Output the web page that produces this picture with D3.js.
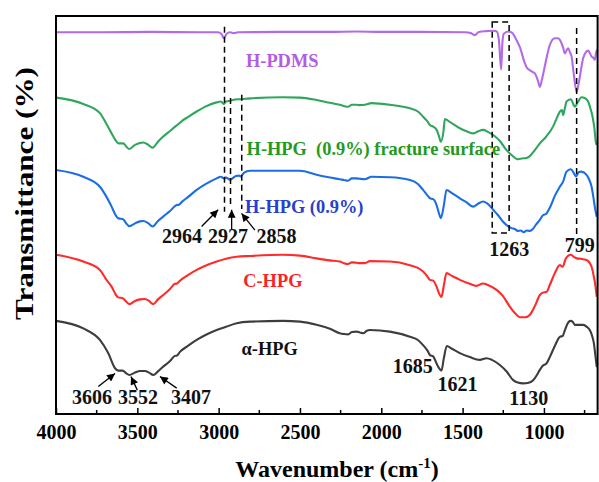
<!DOCTYPE html>
<html>
<head>
<meta charset="utf-8">
<script src="https://cdn.jsdelivr.net/npm/d3@7"></script>
<style>
  body { margin: 0; background: #fff; }
  svg { display: block; }
  text { font-family: "Liberation Serif", "Times New Roman", serif; font-weight: bold; }
</style>
</head>
<body>
<svg id="chart" width="599" height="482"></svg>
<script>
// ---- FTIR spectra: [wavenumber (cm^-1), transmittance (offset, a.u.)] ----
const xTicks = [4000, 3500, 3000, 2500, 2000, 1500, 1000];
const xMinorTicks = [3750, 3250, 2750, 2250, 1750, 1250, 750];

const hPDMS = [
  [4000,95.9],[3730,95.9],[3422,96.0],[3115,95.9],[3004,95.9],[2983,95.5],[2967,94.4],[2952,95.5],
  [2930,95.9],[2906,95.7],[2881,95.9],[2623,96.0],[2316,96.0],[2150,96.1],[2009,96.0],[1763,96.0],
  [1486,95.9],[1449,95.7],[1425,95.2],[1400,96.0],[1351,96.2],[1312,96.3],[1290,96.1],[1277,94.0],
  [1263,86.6],[1256,92.9],[1247,95.5],[1220,96.1],[1197,95.8],[1169,94.0],[1148,92.2],[1117,88.1],
  [1105,87.0],[1087,86.4],[1068,85.9],[1056,85.6],[1038,83.9],[1025,82.2],[1013,83.9],[995,87.3],
  [976,90.9],[964,92.7],[933,94.4],[914,94.4],[902,94.0],[883,92.2],[871,90.6],[859,91.5],[851,91.9],
  [841,91.0],[830,89.8],[816,85.2],[799,81.0],[788,82.7],[779,84.8],[759,89.4],[742,90.9],[728,91.3],
  [718,90.7],[707,89.8],[696,89.5],[687,89.0],[678,91.0],[670,91.6]
];

const hHPGFracture = [
  [4000,79.5],[3832,77.9],[3730,75.6],[3693,73.1],[3658,70.5],[3631,68.6],[3617,68.0],[3586,68.0],
  [3570,67.3],[3549,66.6],[3514,67.6],[3484,68.1],[3463,68.2],[3435,67.7],[3406,66.9],[3373,68.4],
  [3341,69.7],[3299,71.1],[3262,72.4],[3248,72.8],[3226,73.6],[3189,74.6],[3135,76.0],[3078,77.3],
  [3012,78.3],[2986,78.5],[2967,77.9],[2955,78.5],[2930,78.7],[2900,79.0],[2859,79.1],[2808,79.3],
  [2605,79.6],[2500,79.5],[2398,78.9],[2316,78.2],[2255,77.7],[2230,77.4],[2204,77.2],[2181,77.7],
  [2152,77.7],[2132,77.6],[2101,77.7],[2060,78.1],[1947,77.7],[1824,76.8],[1775,76.0],[1743,74.7],
  [1714,73.4],[1701,72.6],[1681,72.2],[1660,71.4],[1646,69.9],[1634,68.4],[1618,70.9],[1609,74.1],
  [1579,73.4],[1517,71.8],[1480,71.1],[1435,70.5],[1406,71.0],[1374,71.4],[1345,70.9],[1312,70.1],
  [1271,68.6],[1230,66.3],[1197,65.0],[1159,64.0],[1136,64.2],[1107,64.3],[1087,64.8],[1056,66.3],
  [1025,68.0],[988,69.6],[944,72.2],[915,74.9],[902,76.0],[889,76.4],[882,75.1],[871,76.9],[861,78.5],
  [835,79.1],[810,77.2],[791,78.4],[769,79.6],[749,79.4],[728,78.5],[715,76.9],[701,74.7],[690,71.9],
  [681,68.4],[675,67.6]
];

const hHPG = [
  [4000,61.3],[3832,59.6],[3730,57.1],[3693,54.8],[3658,52.1],[3631,49.8],[3617,49.2],[3586,48.9],
  [3570,48.0],[3549,47.2],[3514,47.9],[3484,48.4],[3463,48.5],[3435,48.0],[3406,47.1],[3373,48.5],
  [3341,49.6],[3299,51.0],[3258,52.5],[3244,52.6],[3226,53.3],[3189,54.5],[3135,56.3],[3078,57.8],
  [3012,59.2],[2986,59.6],[2967,59.2],[2955,59.4],[2930,58.9],[2912,59.3],[2894,59.8],[2875,59.9],
  [2863,59.7],[2845,60.6],[2808,61.1],[2605,61.1],[2500,61.1],[2398,60.1],[2316,59.4],[2255,59.0],
  [2230,58.8],[2204,58.6],[2181,59.2],[2152,59.2],[2132,59.1],[2101,59.0],[2060,59.6],[1947,59.5],
  [1824,58.8],[1775,57.8],[1743,56.3],[1714,54.8],[1701,54.2],[1681,54.0],[1660,52.5],[1646,50.5],
  [1634,49.2],[1615,52.5],[1599,56.3],[1566,55.5],[1517,54.2],[1480,53.3],[1435,52.1],[1406,52.8],
  [1374,53.4],[1345,52.8],[1312,51.3],[1283,50.0],[1251,48.3],[1222,47.2],[1199,46.7],[1179,46.5],
  [1161,46.0],[1143,46.1],[1124,45.7],[1106,46.1],[1087,46.0],[1068,46.5],[1050,47.5],[1025,48.8],
  [1007,49.9],[984,50.4],[964,51.8],[933,54.8],[902,57.1],[882,58.4],[861,60.9],[835,61.5],[810,60.1],
  [803,59.7],[785,60.8],[769,60.9],[738,60.1],[724,59.1],[707,57.1],[696,54.5],[687,52.0],[675,49.5]
];

const cHPG = [
  [4000,40.0],[3832,38.3],[3730,36.2],[3693,33.9],[3658,32.0],[3631,29.9],[3617,29.3],[3590,29.1],
  [3570,28.3],[3549,27.6],[3514,28.4],[3484,28.8],[3453,28.9],[3428,28.4],[3402,27.6],[3373,28.8],
  [3341,29.9],[3299,31.4],[3269,32.7],[3256,32.8],[3238,33.5],[3189,34.9],[3135,36.2],[3078,37.3],
  [3012,38.3],[2955,39.0],[2889,39.5],[2808,39.7],[2605,40.0],[2500,39.8],[2398,39.1],[2316,38.6],
  [2255,38.3],[2230,37.9],[2204,37.7],[2181,38.1],[2152,38.0],[2132,37.9],[2101,37.9],[2070,38.4],
  [1947,38.3],[1824,37.4],[1775,36.7],[1743,35.8],[1714,34.4],[1701,33.7],[1681,33.5],[1660,32.0],
  [1646,30.4],[1630,29.4],[1615,32.4],[1599,35.4],[1566,34.7],[1517,33.7],[1456,32.7],[1415,32.2],
  [1374,32.8],[1345,32.4],[1291,31.2],[1253,29.7],[1210,27.0],[1179,25.4],[1147,24.3],[1117,24.3],
  [1087,24.9],[1056,27.1],[1025,29.9],[1007,30.5],[984,30.7],[964,32.4],[933,35.4],[902,37.4],
  [885,37.0],[865,39.1],[835,40.0],[816,39.5],[799,39.1],[773,39.0],[738,38.7],[718,37.9],[707,37.0],
  [693,34.5],[684,32.4],[675,29.4]
];

const alphaHPG = [
  [4000,23.4],[3832,21.5],[3730,18.6],[3679,15.3],[3637,11.5],[3617,10.9],[3590,10.9],[3570,10.3],
  [3549,9.8],[3514,10.4],[3484,10.8],[3453,10.8],[3428,10.4],[3402,9.8],[3373,10.7],[3341,11.9],
  [3299,13.3],[3269,14.6],[3256,14.7],[3238,15.6],[3189,17.1],[3135,18.6],[3078,19.9],[3012,21.1],
  [2955,21.9],[2889,22.8],[2808,23.2],[2605,23.4],[2500,23.2],[2398,22.4],[2316,21.4],[2255,20.3],
  [2230,20.1],[2204,20.0],[2181,20.6],[2152,20.7],[2132,20.5],[2111,20.3],[2089,20.9],[2070,21.1],
  [1947,20.7],[1824,19.4],[1775,18.6],[1743,17.3],[1714,15.8],[1701,14.8],[1681,14.5],[1660,12.7],
  [1646,11.6],[1630,10.9],[1615,14.1],[1597,17.1],[1566,16.4],[1517,15.3],[1456,14.3],[1394,13.6],
  [1353,14.0],[1320,13.6],[1271,12.3],[1228,10.6],[1189,8.5],[1161,7.9],[1128,7.7],[1099,7.8],
  [1066,8.5],[1043,9.8],[1025,11.1],[1007,12.1],[984,12.7],[964,14.3],[933,17.1],[902,19.4],
  [885,19.6],[871,21.1],[852,22.9],[837,23.4],[822,23.1],[810,22.4],[779,22.4],[759,22.4],[736,21.9],
  [718,21.1],[706,19.9],[693,17.8],[684,14.8],[675,11.8]
];

const seriesData = [hPDMS, hHPGFracture, hHPG, cHPG, alphaHPG];
const seriesNames = ["H-PDMS", "H-HPG  (0.9%) fracture surface", "H-HPG (0.9%)", "C-HPG", "\u03b1-HPG"];
const lineColors = ["#b36ae6", "#2fa65c", "#1c6ee4", "#ff2b2b", "#3d3d3d"];
const labelColors = ["#b25de2", "#1f9a22", "#2840cc", "#ff1f1f", "#111111"];
// label anchor: [wavenumber at text start, baseline level]
const labelWn = [2832, 2828, 2838, 2849, 2859];
const labelLevel = [87.3, 65.1, 50.4, 32.0, 14.7];

// peak annotations: text, wavenumber of text centre, baseline level
const peakText = ["3606", "3552", "3407", "2964", "2927", "2858", "1263", "799", "1685", "1621", "1130"];
const peakWn = [3779, 3496, 3170, 3226, 2943, 2645, 1213, 779, 1806, 1532, 1093];
const peakLevel = [2.5, 2.5, 2.5, 43.0, 43.0, 43.0, 39.8, 40.7, 10.3, 5.7, 2.3];

// arrows: [tail wn, tail level, head wn, head level]
const arrows = [
  [3740, 6.9, 3637, 10.2],
  [3500, 6.0, 3539, 9.4],
  [3258, 6.5, 3361, 9.4],
  [3105, 47.1, 3003, 51.3],
  [2920, 46.2, 2920, 51.3],
  [2777, 46.2, 2859, 50.4]
];

// dashed guide lines: [wn, top level, bottom level]
const guides = [
  [2964, 97.3, 50.8],
  [2927, 79.4, 51.8],
  [2858, 80.2, 51.5],
  [799, 97.0, 45.2]
];
// dashed box round the 1263 band: [wn left, wn right, top level, bottom level]
const bandBox = [1318, 1214, 98.5, 45.5];

// ---- layout ----
const plot = { left: 56, right: 597.6, top: 16, bottom: 414 };

const svg = d3.select("#chart");
const x = d3.scaleLinear().domain([4000, 670]).range([plot.left, plot.right]);
const y = d3.scaleLinear().domain([0, 100]).range([plot.bottom, plot.top]);

const defs = svg.append("defs");
defs.append("clipPath").attr("id", "clip")
  .append("rect").attr("x", plot.left).attr("y", plot.top)
  .attr("width", plot.right - plot.left).attr("height", plot.bottom - plot.top);

defs.append("marker")
  .attr("id", "arrowhead").attr("viewBox", "0 0 10 10")
  .attr("refX", 10).attr("refY", 5)
  .attr("markerWidth", 9).attr("markerHeight", 8)
  .attr("markerUnits", "userSpaceOnUse")
  .attr("orient", "auto")
  .append("path").attr("d", "M0,0 L10,5 L0,10 z").attr("fill", "#000");

// spectra
const line = d3.line()
  .x(d => x(d[0])).y(d => y(d[1]))
  .curve(d3.curveMonotoneX);

svg.append("g").attr("clip-path", "url(#clip)")
  .selectAll("path").data(seriesData).join("path")
  .attr("d", d => line([...d].sort((a, b) => b[0] - a[0])))
  .attr("fill", "none")
  .attr("stroke", (d, i) => lineColors[i])
  .attr("stroke-width", 2.1)
  .attr("stroke-linejoin", "round");

// series labels
svg.append("g").selectAll("text").data(seriesNames).join("text")
  .attr("x", (d, i) => x(labelWn[i]))
  .attr("y", (d, i) => y(labelLevel[i]))
  .attr("fill", (d, i) => labelColors[i])
  .style("font-size", "18.4px")
  .style("white-space", "pre")
  .text(d => d);

// dashed guides
const dash = "6,4";
svg.append("g").selectAll("line").data(guides).join("line")
  .attr("x1", d => x(d[0])).attr("x2", d => x(d[0]))
  .attr("y1", d => y(d[1])).attr("y2", d => y(d[2]))
  .attr("stroke", "#000").attr("stroke-width", 1.5)
  .attr("stroke-dasharray", dash);

svg.append("rect")
  .attr("x", x(bandBox[0])).attr("y", y(bandBox[2]))
  .attr("width", x(bandBox[1]) - x(bandBox[0]))
  .attr("height", y(bandBox[3]) - y(bandBox[2]))
  .attr("fill", "none").attr("stroke", "#000").attr("stroke-width", 1.5)
  .attr("stroke-dasharray", dash);

// arrows
svg.append("g").selectAll("line").data(arrows).join("line")
  .attr("x1", d => x(d[0])).attr("y1", d => y(d[1]))
  .attr("x2", d => x(d[2])).attr("y2", d => y(d[3]))
  .attr("stroke", "#000").attr("stroke-width", 1.3)
  .attr("marker-end", "url(#arrowhead)");

// peak labels
svg.append("g").selectAll("text").data(peakText).join("text")
  .attr("x", (d, i) => x(peakWn[i]))
  .attr("y", (d, i) => y(peakLevel[i]))
  .attr("text-anchor", "middle")
  .attr("fill", "#111")
  .style("font-size", "20px")
  .text(d => d);

// x axis with inward ticks
const xAxis = svg.append("g")
  .attr("transform", `translate(0,${plot.bottom})`)
  .call(d3.axisBottom(x).tickValues(xTicks).tickSize(-6).tickPadding(11).tickFormat(d3.format("d")));
xAxis.select(".domain").remove();
xAxis.selectAll(".tick line").attr("stroke", "#000").attr("stroke-width", 1.5);
xAxis.selectAll(".tick text")
  .style("font-size", "20px").style("font-family", "'Liberation Serif', serif")
  .style("font-weight", "bold").attr("fill", "#000");

svg.append("g").selectAll("line").data(xMinorTicks).join("line")
  .attr("x1", d => x(d)).attr("x2", d => x(d))
  .attr("y1", plot.bottom).attr("y2", plot.bottom - 4)
  .attr("stroke", "#000").attr("stroke-width", 1.5);

// frame
svg.append("rect")
  .attr("x", plot.left).attr("y", plot.top)
  .attr("width", plot.right - plot.left).attr("height", plot.bottom - plot.top)
  .attr("fill", "none").attr("stroke", "#000").attr("stroke-width", 2);

// axis titles
const xt = svg.append("text")
  .attr("x", 337).attr("y", 477)
  .attr("text-anchor", "middle")
  .style("font-size", "24px").attr("fill", "#000");
xt.append("tspan").text("Wavenumber (cm");
xt.append("tspan").attr("dy", -9).style("font-size", "15px").text("-1");
xt.append("tspan").attr("dy", 9).text(")");

svg.append("text")
  .attr("transform", "translate(33,193.5) rotate(-90)")
  .attr("text-anchor", "middle")
  .style("font-size", "26px").attr("fill", "#000")
  .attr("textLength", 253).attr("lengthAdjust", "spacingAndGlyphs")
  .text("Transmittance (%)");
</script>
</body>
</html>
